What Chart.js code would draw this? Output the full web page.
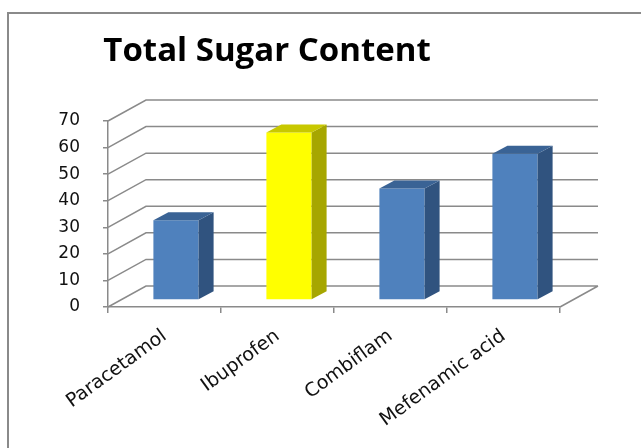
<!DOCTYPE html>
<html lang="en">
<head>
<meta charset="utf-8">
<title>Total Sugar Content</title>
<script src="https://cdn.jsdelivr.net/npm/chart.js@4.4.1/dist/chart.umd.min.js"></script>
<style>
  html, body { margin: 0; padding: 0; background: #fff; overflow: hidden; }
  #marco {
    position: absolute; left: 7px; top: 12px; width: 700px; height: 500px;
    border-left: 2px solid #8a8a8a; border-top: 2px solid #8a8a8a;
  }
  #grafico { position: absolute; left: 0; top: 0; }
</style>
</head>
<body>
<div id="marco"></div>
<canvas id="grafico" width="641" height="448"></canvas>
<script>
// datos
const categorias = ['Paracetamol', 'Ibuprofen', 'Combiflam', 'Mefenamic acid'];
const azucarTotal = [30, 63, 42, 55];
const ticksY = [0, 10, 20, 30, 40, 50, 60, 70];

// estilos (cara frontal, lateral y superior de cada barra)
const colorFrente = ['#4f81bd', '#ffff00', '#4f81bd', '#4f81bd'];
const colorLado = ['#30537f', '#a6a600', '#30537f', '#30537f'];
const colorTapa = ['#3a6395', '#c8c800', '#3a6395', '#3a6395'];
const colorRejilla = '#8a8a8a';

// perspectiva
const pared = { dx: 38, dy: -21 };
const desplazamientoBarra = { dx: 11.5, dy: -7 };
const profundidadBarra = { dx: 15, dy: -8 };

const efecto3d = {
  id: 'efecto3d',
  afterLayout(chart) {
    // el titulo va centrado un poco a la izquierda del area
    chart.titleBlock.right = 534;
  },
  beforeDatasetsDraw(chart) {
    const { ctx, chartArea } = chart;
    const escalaY = chart.scales.y;
    ctx.save();
    ctx.strokeStyle = colorRejilla;
    ctx.lineWidth = 1.5;
    ctx.beginPath();
    escalaY.ticks.forEach(t => {
      const y = escalaY.getPixelForValue(t.value);
      ctx.moveTo(chartArea.left, y);
      ctx.lineTo(chartArea.left + pared.dx, y + pared.dy);
      ctx.lineTo(chartArea.right + pared.dx, y + pared.dy);
    });
    // suelo, lado derecho
    ctx.moveTo(chartArea.right, chartArea.bottom);
    ctx.lineTo(chartArea.right + pared.dx, chartArea.bottom + pared.dy);
    ctx.stroke();
    ctx.restore();
  },
  beforeDatasetDraw(chart) {
    chart.ctx.save();
    chart.ctx.translate(desplazamientoBarra.dx, desplazamientoBarra.dy);
  },
  afterDatasetDraw(chart, args) {
    const ctx = chart.ctx;
    const p = profundidadBarra;
    args.meta.data.forEach((barra, i) => {
      const { x, y, base, width } = barra.getProps(['x', 'y', 'base', 'width'], true);
      const izq = x - width / 2;
      const der = x + width / 2;

      // lado
      ctx.fillStyle = colorLado[i];
      ctx.beginPath();
      ctx.moveTo(der, y);
      ctx.lineTo(der + p.dx, y + p.dy);
      ctx.lineTo(der + p.dx, base + p.dy);
      ctx.lineTo(der, base);
      ctx.closePath();
      ctx.fill();

      // tapa
      ctx.fillStyle = colorTapa[i];
      ctx.beginPath();
      ctx.moveTo(izq, y);
      ctx.lineTo(izq + p.dx, y + p.dy);
      ctx.lineTo(der + p.dx, y + p.dy);
      ctx.lineTo(der, y);
      ctx.closePath();
      ctx.fill();
    });
    ctx.restore();
  }
};

const grafico = new Chart(document.getElementById('grafico'), {
  type: 'bar',
  data: {
    labels: categorias,
    datasets: [{
      label: 'Total Sugar Content',
      data: azucarTotal,
      backgroundColor: colorFrente,
      borderWidth: 0,
      barPercentage: 0.4,
      categoryPercentage: 1.0,
      clip: false
    }]
  },
  options: {
    responsive: false,
    animation: false,
    layout: { padding: { left: 0, right: 81, top: 0, bottom: 0 } },
    plugins: {
      legend: { display: false },
      tooltip: { enabled: false },
      title: {
        display: true,
        text: 'Total Sugar Content',
        color: '#000',
        font: { family: 'Open Sans', size: 33, weight: 'bold', lineHeight: 1.2 },
        padding: { top: 32, bottom: 49.4 }
      }
    },
    scales: {
      x: {
        afterFit(escala) { escala.height = 448 - 307; },
        grid: { offset: true, drawOnChartArea: false, tickLength: 6, color: colorRejilla, lineWidth: 1.5 },
        border: { color: colorRejilla, width: 1.5 },
        ticks: {
          autoSkip: false,
          minRotation: 36,
          maxRotation: 36,
          padding: 12,
          color: '#111',
          font: { family: 'DejaVu Sans', size: 19 }
        }
      },
      y: {
        min: 0,
        max: 70,
        afterFit(escala) { escala.width = 108; },
        afterBuildTicks(escala) { escala.ticks = ticksY.map(v => ({ value: v })); },
        grid: { drawOnChartArea: false, tickLength: 5, color: colorRejilla, lineWidth: 1.5 },
        border: { color: colorRejilla, width: 1.5 },
        ticks: {
          padding: 23,
          color: '#111',
          font: { family: 'DejaVu Sans', size: 17 }
        }
      }
    }
  },
  plugins: [efecto3d]
});
</script>
</body>
</html>
